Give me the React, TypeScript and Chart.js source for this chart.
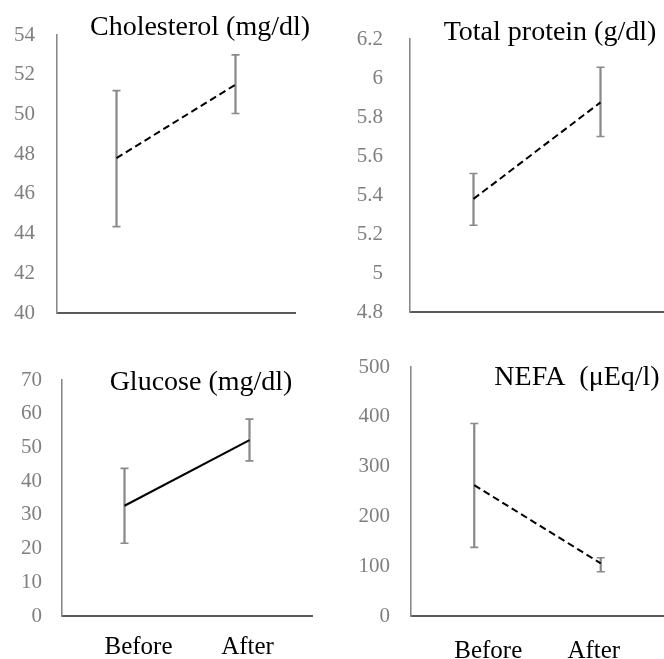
import React, { useEffect, useRef } from "react";
import { Chart, registerables } from "chart.js";

Chart.register(...registerables);

const SERIF = '"Liberation Serif", "Times New Roman", Times, serif';
Chart.defaults.font.family = SERIF;

// ---- Data ----
const categories = ["Before", "After"];

const cholesterolMean = [47.8, 51.5];
const cholesterolHigh = [51.2, 53.0];
const cholesterolLow = [44.35, 50.05];

const proteinMean = [5.38, 5.875];
const proteinHigh = [5.51, 6.055];
const proteinLow = [5.245, 5.7];

const glucoseMean = [32.7, 52.2];
const glucoseHigh = [43.8, 58.4];
const glucoseLow = [21.6, 46.0];

const nefaMean = [262.7, 105.7];
const nefaHigh = [386.4, 117.0];
const nefaLow = [137.8, 88.8];

const cholesterolAxis = [40, 54, 2];
const proteinAxis = [4.8, 6.2, 0.2];
const glucoseAxis = [0, 70, 10];
const nefaAxis = [0, 500, 100];

const titles = ["Cholesterol (mg/dl)", "Total protein (g/dl)", "Glucose (mg/dl)", "NEFA  (\u03bcEq/l)"];

// Draws the panel title inside the plot and the category labels under the x axis
const panelTextPlugin = {
  id: "panelText",
  afterDraw(chart: any, _args: any, opts: any) {
    if (!opts) return;
    const ctx = chart.ctx;
    ctx.save();
    ctx.fillStyle = "#000000";
    ctx.textAlign = "center";
    if (opts.text) {
      ctx.font = `28px ${SERIF}`;
      ctx.textBaseline = "alphabetic";
      ctx.fillText(opts.text, opts.x, opts.y);
    }
    if (opts.showX) {
      const xs = chart.scales.x;
      ctx.font = `25px ${SERIF}`;
      ctx.textBaseline = "middle";
      (chart.data.labels as string[]).forEach((lab, i) => {
        ctx.fillText(lab, xs.getPixelForValue(i) + (opts.labelShift[i] || 0), xs.top + opts.labelY);
      });
    }
    ctx.restore();
  },
};

type PanelProps = {
  left: number;
  top: number;
  width: number;
  height: number;
  mean: number[];
  high: number[];
  low: number[];
  axis: number[];
  title: string;
  titleX: number;
  titleY: number;
  yWidth: number;
  padTop: number;
  padRight: number;
  xHeight: number;
  yPad: number;
  showX: boolean;
  labelY: number;
  labelShift: number[];
  dashed: boolean;
  decimals: boolean;
};

function Panel(p: PanelProps) {
  const ref = useRef<HTMLCanvasElement | null>(null);
  useEffect(() => {
    if (!ref.current) return;
    const errColor = "#8a8a8a";
    const chart = new Chart(ref.current, {
      type: "bar",
      data: {
        labels: categories,
        datasets: [
          {
            type: "bar",
            data: p.low.map((l, i) => [l, p.high[i]]) as any,
            backgroundColor: errColor,
            borderWidth: 0,
            barThickness: 1.6,
            order: 3,
          } as any,
          {
            type: "line",
            data: p.high,
            showLine: false,
            pointStyle: "line",
            pointRadius: 4,
            pointBorderColor: errColor,
            pointBorderWidth: 1.6,
            borderColor: errColor,
            order: 2,
          } as any,
          {
            type: "line",
            data: p.low,
            showLine: false,
            pointStyle: "line",
            pointRadius: 4,
            pointBorderColor: errColor,
            pointBorderWidth: 1.6,
            borderColor: errColor,
            order: 2,
          } as any,
          {
            type: "line",
            data: p.mean,
            borderColor: "#000000",
            borderWidth: 2,
            borderDash: p.dashed ? [7, 4] : [],
            pointRadius: 0,
            fill: false,
            tension: 0,
            order: 1,
          } as any,
        ],
      },
      options: {
        animation: false,
        responsive: false,
        devicePixelRatio: 1,
        events: [],
        layout: { padding: { top: p.padTop, right: p.padRight, left: 0, bottom: 0 }, autoPadding: false },
        plugins: {
          legend: { display: false },
          tooltip: { enabled: false },
          panelText: {
            text: p.title,
            x: p.titleX,
            y: p.titleY,
            showX: p.showX,
            labelY: p.labelY,
            labelShift: p.labelShift,
          },
        } as any,
        scales: {
          x: {
            type: "category",
            offset: true,
            grid: { display: false, drawTicks: false },
            border: { display: true, color: "#5a5a5a", width: 2 },
            ticks: { display: false },
            afterFit: (s: any) => {
              s.height = p.xHeight;
              s.paddingLeft = 0;
              s.paddingRight = 0;
            },
          },
          y: {
            type: "linear",
            min: p.axis[0],
            max: p.axis[1],
            grid: { display: false, drawTicks: false },
            border: { display: true, color: "#8a8a8a", width: 1.6 },
            ticks: {
              stepSize: p.axis[2],
              color: "#7f7f7f",
              font: { size: 21, family: SERIF },
              padding: p.yPad,
              callback: (v: any) => (p.decimals ? String(Number(Number(v).toFixed(1))) : String(v)),
            },
            afterFit: (s: any) => {
              s.width = p.yWidth;
              s.paddingTop = 0;
              s.paddingBottom = 0;
            },
          },
        },
      } as any,
      plugins: [panelTextPlugin as any],
    });
    return () => chart.destroy();
  }, []);
  return (
    <canvas
      ref={ref}
      width={p.width}
      height={p.height}
      style={{ position: "absolute", left: p.left, top: p.top, width: p.width, height: p.height }}
    />
  );
}

export default function App() {
  return (
    <div style={{ position: "fixed", left: 0, top: 0, width: 664, height: 659, background: "#ffffff" }}>
      <Panel
        left={0} top={0} width={332} height={330}
        mean={cholesterolMean} high={cholesterolHigh} low={cholesterolLow} axis={cholesterolAxis}
        title={titles[0]} titleX={200} titleY={35}
        yWidth={57} padTop={35} padRight={37} xHeight={17} yPad={22}
        showX={false} labelY={0} labelShift={[0, 0]} dashed={true} decimals={false}
      />
      <Panel
        left={332} top={0} width={332} height={330}
        mean={proteinMean} high={proteinHigh} low={proteinLow} axis={proteinAxis}
        title={titles[1]} titleX={218} titleY={40}
        yWidth={78} padTop={39} padRight={0} xHeight={18} yPad={27}
        showX={false} labelY={0} labelShift={[0, 0]} dashed={true} decimals={true}
      />
      <Panel
        left={0} top={330} width={332} height={329}
        mean={glucoseMean} high={glucoseHigh} low={glucoseLow} axis={glucoseAxis}
        title={titles[2]} titleX={201} titleY={60}
        yWidth={62} padTop={50} padRight={20} xHeight={43} yPad={20}
        showX={true} labelY={31} labelShift={[14, -2]} dashed={false} decimals={false}
      />
      <Panel
        left={332} top={330} width={332} height={329}
        mean={nefaMean} high={nefaHigh} low={nefaLow} axis={nefaAxis}
        title={titles[3]} titleX={245} titleY={55}
        yWidth={79} padTop={37} padRight={0} xHeight={43} yPad={21}
        showX={true} labelY={35} labelShift={[14, -7]} dashed={true} decimals={false}
      />
    </div>
  );
}
